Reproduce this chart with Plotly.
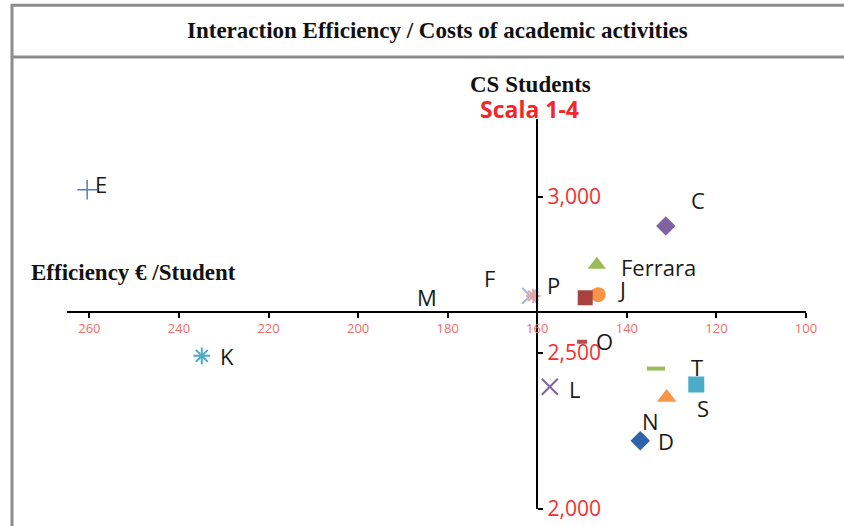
import plotly.graph_objects as go

# ---- data ----
names = ["E", "K", "F", "P", "C", "Ferrara", "J", "M", "O", "L", "N", "T", "S", "D"]
efficiency = [260.5, 234.9, 161.6, 160.9, 131.3, 146.7, 146.4, 149.3, 150.0, 157.2, 133.5, 124.5, 131.1, 137.0]
students = [3023, 2491, 2683, 2683, 2907, 2783, 2687, 2677, 2536, 2392, 2450, 2399, 2357, 2219]
x_ticks = [260, 240, 220, 200, 180, 160, 140, 120, 100]
y_ticks = [2000, 2500, 3000]

# ---- styles ----
symbols = ["cross-thin", "asterisk", "x-thin", "asterisk", "diamond", "triangle-up", "circle",
           "square", "line-ew", "x-thin", "line-ew", "square", "triangle-up", "diamond"]
colors = ["#4f81bd", "#4bacc6", "#a3b5dc", "#eaa3a3", "#8064a2", "#9bbb59", "#f79646",
          "#a8423f", "#b54a46", "#8064a2", "#9bbb59", "#4bacc6", "#f79646", "#2f65a8"]
sizes = [14, 14, 16, 12, 15, 16, 15, 15, 7, 16, 13, 16, 17, 15]
label_shift = [(14, 6), (25, 0), (-41, 18), (20, 11), (32, 26), (22, -2), (24, 6),
               (-158, 1), (22, 1), (25, -2), (-5, -52), (1, 18), (36, -10), (26, 0)]

X_MIN, X_MAX = 100, 265
Y_MIN, Y_MAX = 2000, 3250
X_CROSS = 160   # where the vertical axis crosses
Y_CROSS = 2632  # where the horizontal axis crosses

W, H = 844, 526
L, R, T, B = 67, 38, 119, 16.5
pw, ph = W - L - R, H - T - B


def px(x):
    return (x - L) / pw


def py(y):
    return (H - B - y) / ph


fig = go.Figure()
for i, n in enumerate(names):
    lw = 1.5
    if symbols[i] in ("line-ew",):
        lw = 4
    if symbols[i] in ("x-thin", "asterisk"):
        lw = 2
    filled = symbols[i] in ("diamond", "triangle-up", "circle", "square")
    fig.add_trace(go.Scatter(
        x=[efficiency[i]], y=[students[i]], mode="markers", name=n,
        marker=dict(symbol=symbols[i], size=sizes[i], color=colors[i],
                    line=dict(color=colors[i], width=lw if not filled else 0)),
        showlegend=False, hoverinfo="text", text=[n]))

label_font = dict(family="Open Sans, Liberation Sans, sans-serif", size=22, color="#1a1a1a")
for i, n in enumerate(names):
    dx, dy = label_shift[i]
    anchor = "left" if n == "Ferrara" else "center"
    fig.add_annotation(x=efficiency[i], y=students[i], text=n, showarrow=False,
                       xshift=dx, yshift=dy, xanchor=anchor, yanchor="middle",
                       font=label_font)

fig.update_xaxes(
    range=[X_MAX, X_MIN], autorange=False, showgrid=False, zeroline=False,
    showline=True, linecolor="black", linewidth=2, automargin=False,
    tickmode="array", tickvals=x_ticks, ticktext=[str(v) for v in x_ticks],
    ticks="outside", ticklen=5, tickwidth=2, tickcolor="black",
    tickfont=dict(family="Open Sans, sans-serif", size=13, color="#f26b6b"),
    anchor="free", position=(Y_CROSS - Y_MIN) / (Y_MAX - Y_MIN),
)
fig.update_yaxes(
    range=[Y_MIN, Y_MAX], autorange=False, showgrid=False, zeroline=False,
    showline=True, linecolor="black", linewidth=2, automargin=False,
    tickmode="array", tickvals=y_ticks, ticktext=[f"{v:,}" for v in y_ticks],
    ticks="outside", ticklen=5, tickwidth=2, tickcolor="black",
    tickfont=dict(family="Open Sans, sans-serif", size=21, color="#f23030"),
    anchor="free", position=(X_MAX - X_CROSS) / (X_MAX - X_MIN), side="right",
)

serif = "Liberation Serif, Times New Roman, serif"
fig.add_annotation(xref="paper", yref="paper", x=px(437), y=py(30), text="<b>Interaction Efficiency / Costs of academic activities</b>",
                   showarrow=False, font=dict(family=serif, size=23, color="#111"), xanchor="center", yanchor="middle")
fig.add_annotation(xref="paper", yref="paper", x=px(530), y=py(84), text="<b>CS Students</b>",
                   showarrow=False, font=dict(family=serif, size=23, color="#111"), xanchor="center", yanchor="middle")
fig.add_annotation(xref="paper", yref="paper", x=px(529), y=py(109), text="<b>Scala 1-4</b>",
                   showarrow=False, font=dict(family="Open Sans, sans-serif", size=23, color="#f02828"), xanchor="center", yanchor="middle")
fig.add_annotation(xref="paper", yref="paper", x=px(29), y=py(273), text="<b>Efficiency € /Student</b>",
                   showarrow=False, font=dict(family=serif, size=23, color="#111"), xanchor="left", yanchor="middle")

border = dict(color="#8c8c8c", width=3)
fig.add_shape(type="line", xref="paper", yref="paper", x0=px(12), x1=px(12), y0=py(4), y1=py(530), line=border)
fig.add_shape(type="line", xref="paper", yref="paper", x0=px(11), x1=px(850), y0=py(5), y1=py(5), line=border)
fig.add_shape(type="line", xref="paper", yref="paper", x0=px(11), x1=px(850), y0=py(57), y1=py(57), line=border)

fig.update_layout(
    width=W, height=H, margin=dict(l=L, r=R, t=T, b=B, autoexpand=False),
    paper_bgcolor="white", plot_bgcolor="white",
)
fig.write_html("out.html", config={"displayModeBar": False},
               post_script="document.body.style.margin='0';")
